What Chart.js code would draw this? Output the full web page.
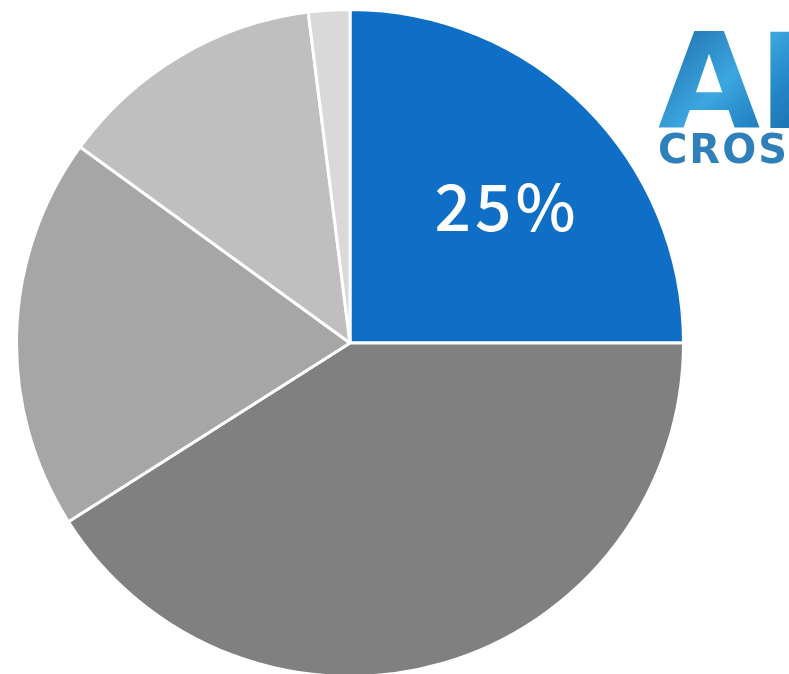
<!DOCTYPE html>
<html>
<head>
  <meta charset="utf-8">
  <title>Pie</title>
  <script src="https://cdn.jsdelivr.net/npm/chart.js@4.4.0/dist/chart.umd.min.js"></script>
  <style>
    html, body {
      margin: 0;
      padding: 0;
      width: 789px;
      height: 674px;
      overflow: hidden;
      background: #ffffff;
    }
    .wrap {
      position: absolute;
      left: 15px;
      top: 8px;
      width: 670px;
      height: 670px;
    }
    .logo {
      position: absolute;
      left: 658px;
      top: 28px;
      font-family: 'DejaVu Sans', sans-serif;
      white-space: nowrap;
    }
    .logo .big {
      font-size: 132px;
      font-weight: bold;
      line-height: 108px;
      letter-spacing: -2px;
      background: linear-gradient(135deg, #1d6aa8, #3ba6df 45%, #2384c4 70%, #1b6aa6);
      -webkit-background-clip: text;
      color: transparent;
    }
    .logo .small {
      font-size: 40px;
      font-weight: bold;
      line-height: 34px;
      color: #2f80b9;
      letter-spacing: 2px;
      margin-top: -4px;
    }
  </style>
</head>
<body>
  <div class="wrap"><canvas id="pie"></canvas></div>
  <div class="logo"><div class="big">AI</div><div class="small">CROSS</div></div>

  <script>
    // 데이터
    const labels = ['A', 'B', 'C', 'D', 'E'];
    const values = [25, 41, 19, 13, 2];
    const colors = ['#0F6EC6', '#808080', '#A6A6A6', '#BFBFBF', '#D9D9D9'];
    const shownLabels = ['25%', '', '', '', ''];

    // 조각 위 퍼센트 라벨
    const sliceLabel = {
      id: 'sliceLabel',
      afterDatasetsDraw(chart) {
        const ctx = chart.ctx;
        chart.getDatasetMeta(0).data.forEach((arc, i) => {
          if (!shownLabels[i]) return;
          const p = arc.getProps(['x', 'y', 'startAngle', 'endAngle', 'outerRadius'], true);
          const ang = p.startAngle + (p.endAngle - p.startAngle) * 0.54;
          const r = p.outerRadius * 0.62;
          ctx.save();
          ctx.fillStyle = '#ffffff';
          ctx.font = '500 64px "Noto Sans CJK JP", "Noto Sans", sans-serif';
          ctx.letterSpacing = '4px';
          ctx.textAlign = 'center';
          ctx.textBaseline = 'middle';
          ctx.fillText(shownLabels[i], p.x + Math.cos(ang) * r + 2, p.y + Math.sin(ang) * r);
          ctx.restore();
        });
      }
    };

    new Chart(document.getElementById('pie'), {
      type: 'pie',
      data: {
        labels: labels,
        datasets: [{
          data: values,
          backgroundColor: colors,
          borderColor: '#ffffff',
          borderWidth: 3
        }]
      },
      options: {
        responsive: true,
        maintainAspectRatio: false,
        animation: false,
        layout: { padding: 0 },
        plugins: {
          legend: { display: false },
          tooltip: { enabled: false }
        }
      },
      plugins: [sliceLabel]
    });
  </script>
</body>
</html>
